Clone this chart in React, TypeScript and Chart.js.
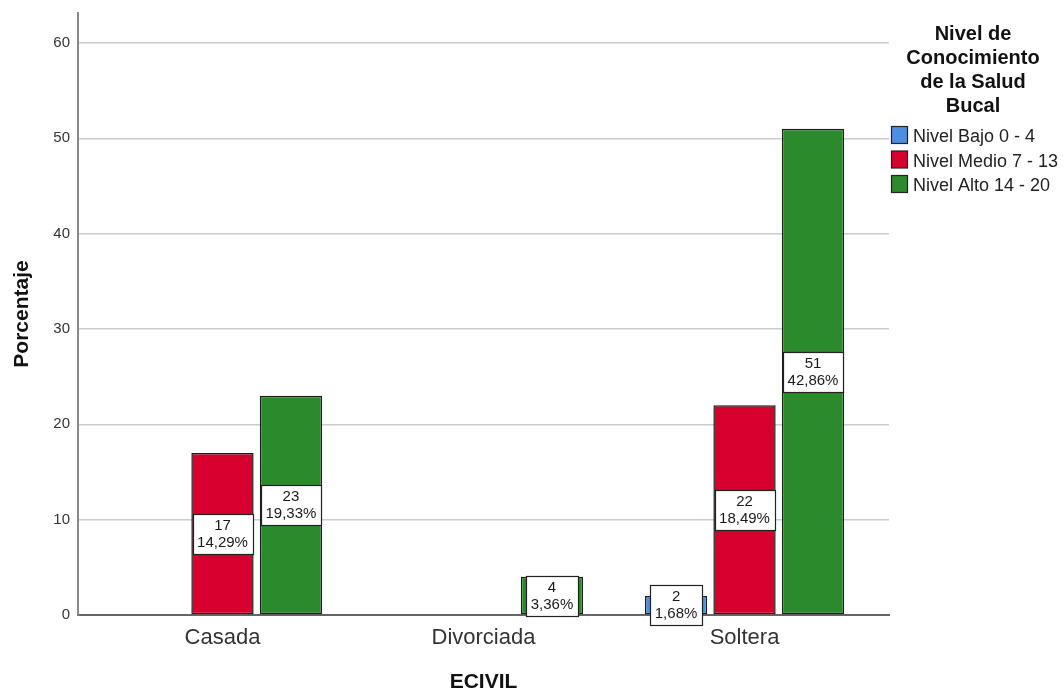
import { useEffect, useRef } from "react";
import { Chart, registerables } from "chart.js";

Chart.register(...registerables);

const FONT = '"Liberation Sans", Arial, Helvetica, sans-serif';

const categories = ["Casada", "Divorciada", "Soltera"];
const seriesNames = ["Nivel Bajo 0 - 4", "Nivel Medio 7 - 13", "Nivel Alto 14 - 20"];
const bajo = [0, 0, 2];
const medio = [17, 0, 22];
const alto = [23, 4, 51];
const seriesColors = ["#4A8FE0", "#D6002F", "#2B8A2B"];
const legendTitle = ["Nivel de", "Conocimiento", "de la Salud", "Bucal"];
const xTitle = "ECIVIL";
const yTitle = "Porcentaje";

const seriesValues = [bajo, medio, alto];
const total = seriesValues.reduce((s, arr) => s + arr.reduce((a, b) => a + b, 0), 0);
const pct = (v: number) => ((v / total) * 100).toFixed(2).replace(".", ",") + "%";

const labelPlugin = {
  id: "boxLabels",
  afterDatasetsDraw(chart: any) {
    const ctx = chart.ctx;
    ctx.save();
    ctx.font = `15px ${FONT}`;
    chart.data.datasets.forEach((_ds: any, di: number) => {
      const meta = chart.getDatasetMeta(di);
      meta.data.forEach((el: any, i: number) => {
        const v = seriesValues[di][i];
        if (!v) return;
        const { x, y, base } = el.getProps(["x", "y", "base"], true);
        const cy = (y + base) / 2;
        const l1 = String(v);
        const l2 = pct(v);
        const w = Math.max(ctx.measureText(l1).width, ctx.measureText(l2).width) + 9;
        const h = 40;
        const bx = Math.round(x - w / 2) + 0.5;
        const by = Math.round(cy - h / 2) + 0.5;
        ctx.fillStyle = "#ffffff";
        ctx.fillRect(bx, by, Math.round(w), h);
        ctx.strokeStyle = "#222222";
        ctx.lineWidth = 1.2;
        ctx.strokeRect(bx, by, Math.round(w), h);
        ctx.fillStyle = "#1a1a1a";
        ctx.textAlign = "center";
        ctx.textBaseline = "middle";
        ctx.fillText(l1, x, cy - 8);
        ctx.fillText(l2, x, cy + 9);
      });
    });
    ctx.restore();
  },
};

const legendPlugin = {
  id: "sideLegend",
  afterDraw(chart: any) {
    const ctx = chart.ctx;
    ctx.save();
    ctx.fillStyle = "#111111";
    ctx.textAlign = "center";
    ctx.textBaseline = "alphabetic";
    ctx.font = `bold 20px ${FONT}`;
    const cx = 973;
    legendTitle.forEach((line, i) => {
      ctx.fillText(line, cx, 40 + i * 24);
    });
    ctx.font = `18px ${FONT}`;
    ctx.textAlign = "left";
    seriesNames.forEach((name, i) => {
      const y0 = 126 + i * 24.5;
      ctx.fillStyle = seriesColors[i];
      ctx.fillRect(891.5, y0 + 0.5, 16, 17);
      ctx.strokeStyle = "#222222";
      ctx.lineWidth = 1.2;
      ctx.strokeRect(891.5, y0 + 0.5, 16, 17);
      ctx.fillStyle = "#222222";
      ctx.fillText(name, 913, y0 + 16);
    });
    ctx.restore();
  },
};

export default function App() {
  const ref = useRef<HTMLCanvasElement | null>(null);

  useEffect(() => {
    if (!ref.current) return;
    const datasets = seriesNames.map((name, di) => ({
      label: name,
      data: categories.map((_c, i) => ({ x: i, y: seriesValues[di][i] ? seriesValues[di][i] : null })),
      backgroundColor: seriesColors[di],
      borderColor: "#1e1e1e",
      borderWidth: 1.5,
      borderSkipped: false,
      categoryPercentage: 0.787,
      barPercentage: 0.91,
    }));
    const chart = new Chart(ref.current, {
      type: "bar",
      data: { datasets } as any,
      options: {
        animation: false,
        responsive: true,
        maintainAspectRatio: false,
        layout: { padding: { left: 0, right: 174, top: 13, bottom: 0 } },
        plugins: {
          legend: { display: false },
          tooltip: { enabled: false },
        },
        scales: {
          x: {
            type: "linear",
            offset: false,
            min: -0.5535,
            max: 2.5535,
            afterBuildTicks: (scale: any) => {
              scale.ticks = categories.map((_c, i) => ({ value: i }));
            },
            afterFit: (scale: any) => {
              scale.height = 78;
              scale.paddingLeft = 0;
              scale.paddingRight = 0;
            },
            grid: { display: false, drawTicks: false, offset: false },
            border: { display: true, color: "#666666", width: 2 },
            ticks: {
              padding: 10,
              color: "#333333",
              font: { family: FONT, size: 22 },
              autoSkip: false,
              maxRotation: 0,
              callback: (v: any) => categories[Math.round(Number(v))] ?? "",
            },
            title: {
              display: true,
              text: xTitle,
              color: "#111111",
              font: { family: FONT, size: 21, weight: "bold", lineHeight: 1 },
              padding: { top: 0, bottom: 0 },
            },
          },
          y: {
            min: 0,
            max: 63.15,
            afterFit: (scale: any) => {
              scale.width = 78;
              scale.paddingTop = 0;
              scale.paddingBottom = 0;
            },
            grid: { color: "#cccccc", lineWidth: 1.5, drawTicks: false },
            border: { display: true, color: "#888888", width: 2 },
            ticks: {
              stepSize: 10,
              includeBounds: false,
              padding: 8,
              color: "#333333",
              font: { family: FONT, size: 15 },
            },
            title: {
              display: true,
              text: yTitle,
              color: "#111111",
              font: { family: FONT, size: 21, weight: "bold", lineHeight: 1.2 },
              padding: { top: 10, bottom: 0 },
            },
          },
        },
      } as any,
      plugins: [labelPlugin, legendPlugin],
    });
    return () => chart.destroy();
  }, []);

  return (
    <div style={{ position: "fixed", left: 0, top: 0, width: 1063, height: 693, background: "#ffffff" }}>
      <canvas ref={ref} />
    </div>
  );
}
